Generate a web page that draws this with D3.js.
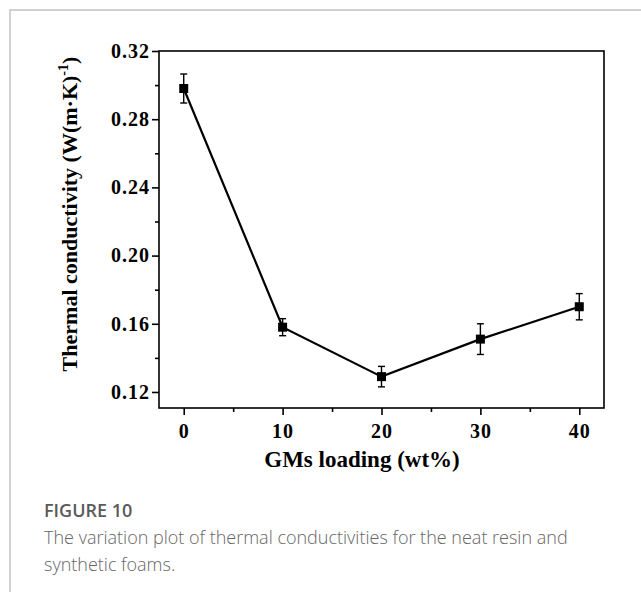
<!DOCTYPE html>
<html><head><meta charset="utf-8">
<script src="https://cdn.jsdelivr.net/npm/d3@7"></script>
<style>body{margin:0;background:#fff}svg{display:block}</style>
</head><body>
<script>
const loadings = [0, 10, 20, 30, 40];
const conductivity = [0.298, 0.158, 0.129, 0.151, 0.170];
const errors = [0.0085, 0.005, 0.006, 0.009, 0.0077];
const xTicks = [0, 10, 20, 30, 40];
const yTicks = [0.12, 0.16, 0.20, 0.24, 0.28, 0.32];

const W = 641, H = 592;
const svg = d3.select("body").append("svg").attr("width", W).attr("height", H);

// page frame
svg.append("line").attr("x1", 9).attr("x2", W).attr("y1", 10).attr("y2", 10).attr("stroke", "#d0d0d0").attr("stroke-width", 2);
svg.append("line").attr("x1", 10).attr("x2", 10).attr("y1", 9).attr("y2", H).attr("stroke", "#d0d0d0").attr("stroke-width", 2);

const L = 159, R = 604, T = 51, B = 408;
const x = d3.scaleLinear().domain([-2.5, 42.5]).range([L, R]);
const y = d3.scaleLinear().domain([0.1106, 0.32]).range([B, T]);

const font = "'Liberation Serif','Times New Roman',serif";

// frame
svg.append("rect").attr("x", L).attr("y", T).attr("width", R - L).attr("height", B - T)
  .attr("fill", "none").attr("stroke", "#000").attr("stroke-width", 1.6);

// axes
const xAxis = svg.append("g").attr("transform", `translate(0,${B})`)
  .call(d3.axisBottom(x).tickValues(xTicks).tickSize(7).tickPadding(9).tickFormat(d3.format("d")));
const xMinor = svg.append("g").attr("transform", `translate(0,${B})`)
  .call(d3.axisBottom(x).tickValues([5, 15, 25, 35]).tickSize(4).tickFormat(""));
const yAxis = svg.append("g").attr("transform", `translate(${L},0)`)
  .call(d3.axisLeft(y).tickValues(yTicks).tickSize(7).tickPadding(2).tickFormat(d3.format(".2f")));
const yMinor = svg.append("g").attr("transform", `translate(${L},0)`)
  .call(d3.axisLeft(y).tickValues([0.14, 0.18, 0.22, 0.26, 0.30]).tickSize(4).tickFormat(""));
[xAxis, xMinor, yAxis, yMinor].forEach(g => {
  g.select(".domain").remove();
  g.selectAll("line").attr("stroke", "#000").attr("stroke-width", 1.6);
  g.selectAll("text").attr("font-family", font).attr("font-weight", "bold").attr("font-size", 20)
    .attr("letter-spacing", 1).attr("fill", "#000");
});

// line
svg.append("path").datum(loadings.map((d, i) => [d, conductivity[i]]))
  .attr("fill", "none").attr("stroke", "#000").attr("stroke-width", 2.2)
  .attr("d", d3.line().x(d => x(d[0])).y(d => y(d[1])));

// error bars
const eb = svg.append("g").attr("stroke", "#000").attr("stroke-width", 1.4);
loadings.forEach((d, i) => {
  const cx = x(d), y1 = y(conductivity[i] + errors[i]), y2 = y(conductivity[i] - errors[i]);
  eb.append("line").attr("x1", cx).attr("x2", cx).attr("y1", y1).attr("y2", y2);
  eb.append("line").attr("x1", cx - 3.5).attr("x2", cx + 3.5).attr("y1", y1).attr("y2", y1);
  eb.append("line").attr("x1", cx - 3.5).attr("x2", cx + 3.5).attr("y1", y2).attr("y2", y2);
});

// markers
svg.append("g").selectAll("rect").data(loadings).join("rect")
  .attr("x", d => x(d) - 4.5).attr("y", (d, i) => y(conductivity[i]) - 4.5)
  .attr("width", 9).attr("height", 9).attr("fill", "#000");

// axis titles
svg.append("text").attr("x", 362).attr("y", 467).attr("text-anchor", "middle")
  .attr("font-family", font).attr("font-weight", "bold").attr("font-size", 23).text("GMs loading (wt%)");

const yl = svg.append("text").attr("transform", `translate(77,214) rotate(-90)`)
  .attr("text-anchor", "middle").attr("font-family", font).attr("font-weight", "bold").attr("font-size", 22);
yl.append("tspan").text("Thermal conductivity (W(m\u00B7K)");
yl.append("tspan").attr("dy", -9).attr("font-size", 14).text("-1");
yl.append("tspan").attr("dy", 9).text(")");

// caption
const cf = "'Open Sans',sans-serif";
svg.append("text").attr("x", 44).attr("y", 517).attr("font-family", cf)
  .attr("font-weight", 600).attr("font-size", 18).attr("fill", "#5a5a5a").text("FIGURE 10");
svg.append("text").attr("x", 44).attr("y", 544).attr("font-family", cf)
  .attr("font-weight", 300).attr("font-size", 18).attr("fill", "#666").text("The variation plot of thermal conductivities for the neat resin and");
svg.append("text").attr("x", 44).attr("y", 571).attr("font-family", cf)
  .attr("font-weight", 300).attr("font-size", 18).attr("fill", "#666").text("synthetic  foams.");
</script>
</body></html>
